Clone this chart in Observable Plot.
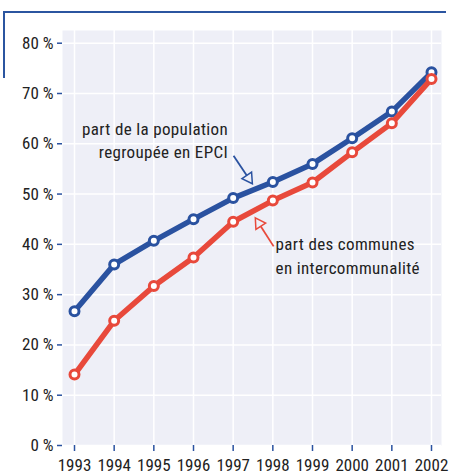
<!DOCTYPE html>
<html>
<head>
<meta charset="utf-8">
<script src="https://cdn.jsdelivr.net/npm/d3@7"></script>
<script src="https://cdn.jsdelivr.net/npm/@observablehq/plot@0.6"></script>
<style>
  html, body { margin: 0; padding: 0; background: #fff; }
  #wrap { position: relative; width: 459px; height: 473px; overflow: hidden; }
  #deco { position: absolute; left: 3px; top: 11px; width: 443px; height: 67px;
          border-top: 2px solid #2b55a0; border-left: 2px solid #2b55a0; box-sizing: border-box; }
  #chart { position: absolute; left: 0; top: 0; }
</style>
</head>
<body>
<div id="wrap"><div id="deco"></div><div id="chart"></div></div>
<script>
const years = [1993, 1994, 1995, 1996, 1997, 1998, 1999, 2000, 2001, 2002];
const population = [26.7, 36.0, 40.7, 45.0, 49.2, 52.4, 56.0, 61.1, 66.4, 74.2];
const communes = [14.1, 24.8, 31.7, 37.4, 44.5, 48.7, 52.3, 58.3, 64.1, 72.9];
const yTicks = [0, 10, 20, 30, 40, 50, 60, 70, 80];

const popLabel = ["part de la population", "regroupée en EPCI"];
const comLabel = ["part des communes", "en intercommunalité"];
// annotation anchors (data space)
const popLabelPos = [{x: 1996.87, y: 62.9}, {x: 1996.87, y: 58.3}];
const comLabelPos = [{x: 1998.07, y: 39.9}, {x: 1998.07, y: 35.2}];
const arrows = [
  {x1: 1997.01, y1: 57.6, x2: 1997.39, y2: 53.15, rot: 146, c: "pop"},
  {x1: 1998.02, y1: 39.6, x2: 1997.65, y2: 44.15, rot: -33, c: "com"}
];

const BLUE = "#2a52a0", RED = "#e8493b", BG = "#eeeff7", TXT = "#222";
const popData = years.map((y, i) => ({year: y, v: population[i]}));
const comData = years.map((y, i) => ({year: y, v: communes[i]}));
const colorOf = c => c === "pop" ? BLUE : RED;

const chart = Plot.plot({
  width: 459,
  height: 473,
  marginLeft: 62,
  marginRight: 18,
  marginTop: 30,
  marginBottom: 28,
  style: {fontFamily: "'Roboto Condensed', 'Open Sans', sans-serif", fontSize: "17px", background: "transparent", color: TXT},
  x: {domain: [1993, 2002], insetLeft: 12, insetRight: 10},
  y: {domain: [0, 80], insetTop: 12.7},
  marks: [
    Plot.frame({fill: BG, stroke: null}),
    Plot.gridX(years, {stroke: "#fff", strokeOpacity: 1, strokeWidth: 1.5}),
    Plot.gridY(yTicks, {stroke: "#fff", strokeOpacity: 1, strokeWidth: 1.5}),
    Plot.axisX(years, {tickFormat: d => String(d), stroke: BLUE, strokeWidth: 1.5, fill: TXT, tickSize: 6, tickPadding: 7, fontSize: 17, label: null}),
    Plot.axisY(yTicks, {tickFormat: d => d + " %", stroke: BLUE, strokeWidth: 1.5, fill: TXT, tickSize: 5, tickPadding: 4, fontSize: 17, label: null}),
    Plot.line(popData, {x: "year", y: "v", stroke: BLUE, strokeWidth: 5.5}),
    Plot.dot(popData, {x: "year", y: "v", r: 4.5, fill: "#fff", stroke: BLUE, strokeWidth: 3}),
    Plot.line(comData, {x: "year", y: "v", stroke: RED, strokeWidth: 5.5}),
    Plot.dot(comData, {x: "year", y: "v", r: 4.5, fill: "#fff", stroke: RED, strokeWidth: 3}),
    Plot.link(arrows, {x1: "x1", y1: "y1", x2: "x2", y2: "y2", stroke: d => colorOf(d.c), strokeWidth: 1.8}),
    Plot.dot(arrows, {x: "x2", y: "y2", symbol: "triangle", r: 4.3, rotate: "rot", fill: BG, stroke: d => colorOf(d.c), strokeWidth: 1.5}),
    Plot.text(popLabel, {x: (d, i) => popLabelPos[i].x, y: (d, i) => popLabelPos[i].y, text: d => d, textAnchor: "end", lineAnchor: "middle", fill: TXT, fontSize: 17}),
    Plot.text(comLabel, {x: (d, i) => comLabelPos[i].x, y: (d, i) => comLabelPos[i].y, text: d => d, textAnchor: "start", lineAnchor: "middle", fill: TXT, fontSize: 17})
  ]
});
d3.select(chart).selectAll('g[aria-label="text"]').style("letter-spacing", "0.35px");
document.getElementById("chart").appendChild(chart);
</script>
</body>
</html>
